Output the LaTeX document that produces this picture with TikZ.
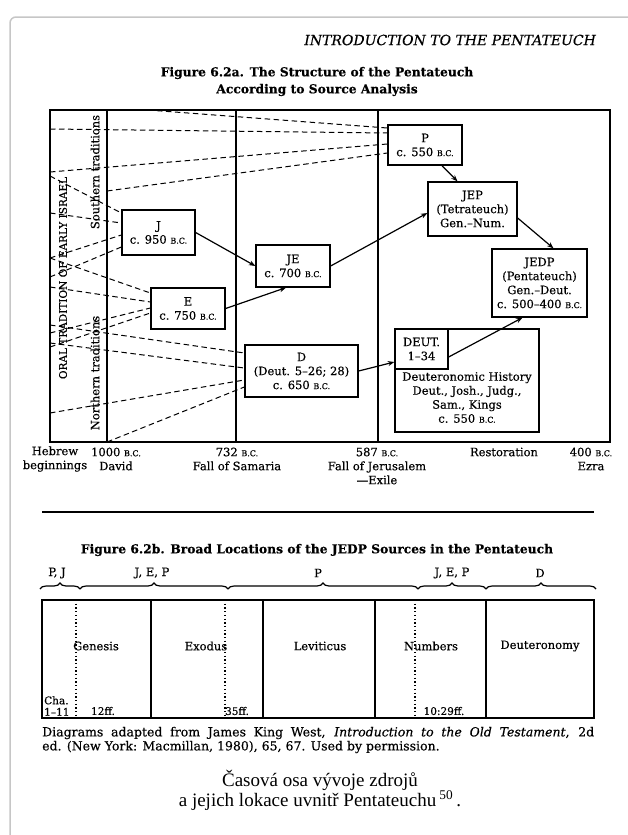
\documentclass[tikz,border=0pt]{standalone}
\usepackage{fontspec}
\setmainfont[FakeBold=0.4]{DejaVu Serif}
\newfontfamily\capfont{Liberation Serif}
\usetikzlibrary{arrows.meta,decorations.pathreplacing}
\newcommand{\BCsc}{{\fontsize{8}{9}\selectfont B.C.}}

\begin{document}
\begin{tikzpicture}[x=1pt,y=-1pt,
 src/.style={draw,line width=1.3pt,inner sep=0pt,align=center,font=\fontsize{11.5}{14}\selectfont},
 trad/.style={line width=1pt,dash pattern=on 5.5pt off 3.5pt},
 flow/.style={line width=1.2pt,-{Stealth[length=6.5pt,width=5pt]}},
 lbl/.style={align=center,inner sep=0pt,font=\fontsize{11.5}{14}\selectfont},
 wave/.style={line width=1.2pt,decorate,decoration={brace,amplitude=6pt}}]
\useasboundingbox (0,0) rectangle (628,835);
\draw[gray!45,line width=1.5pt,rounded corners=6pt] (10,835)--(10,17)--(628,17);
\node[anchor=east,inner sep=0pt,font=\fontsize{14}{16}\itshape] (head) at (596,40) {INTRODUCTION TO THE PENTATEUCH};
\node[align=center,inner sep=0pt,font=\fontsize{12.3}{17}\bfseries] (tita) at (317,81.5) {Figure 6.2a. The Structure of the Pentateuch\\According to Source Analysis};
\draw[line width=1.4pt] (50,110) rectangle (610,442);
\draw[line width=1.1pt] (107,110)--(107,442) (236,110)--(236,442) (378,110)--(378,442);
\node[rotate=90,inner sep=0pt,font=\fontsize{10.5}{12}\selectfont] (oral) at (63,278) {ORAL TRADITION OF EARLY ISRAEL};
\node[rotate=90,lbl] (south) at (95,172) {Southern traditions};
\node[rotate=90,lbl] (north) at (95,373) {Northern traditions};
\node[src,minimum width=74pt,minimum height=40pt] (P) at (425,145) {P\\c. 550 \BCsc};
\node[src,minimum width=89pt,minimum height=54pt] (JEP) at (472.5,209) {JEP\\(Tetrateuch)\\Gen.–Num.};
\node[src,minimum width=73pt,minimum height=45pt] (J) at (158.5,232.5) {J\\c. 950 \BCsc};
\node[src,minimum width=74pt,minimum height=42pt] (JE) at (293,266) {JE\\c. 700 \BCsc};
\node[src,minimum width=74pt,minimum height=41pt] (E) at (188,308.5) {E\\c. 750 \BCsc};
\node[src,minimum width=113pt,minimum height=52pt] (D) at (301.5,371) {D\\(Deut. 5–26; 28)\\c. 650 \BCsc};
\node[src,minimum width=95pt,minimum height=68pt] (JEDP) at (539.5,283) {JEDP\\(Pentateuch)\\Gen.–Deut.\\c. 500–400 \BCsc};
\node[src,minimum width=144pt,minimum height=103pt] (DH) at (467,380.5) {};
\node[src,minimum width=53pt,minimum height=40pt] (DEUT) at (421.5,349) {DEUT.\\1–34};
\node[lbl] (DHtext) at (467,397.5) {Deuteronomic History\\Deut., Josh., Judg.,\\Sam., Kings\\c. 550 \BCsc};
\draw[trad] (148,110) coordinate (p1) -- ([yshift=17pt]P.west); \draw[trad] (50,129) coordinate (p2) -- ([yshift=12pt]P.west);
\draw[trad] (50,172) coordinate (p3) -- ([yshift=1pt]P.west); \draw[trad] (107,191) coordinate (p4) -- ([yshift=-8pt]P.west);
\draw[trad] (50,176) coordinate (j1) -- ([yshift=19.5pt]J.west); \draw[trad] (50,213) coordinate (j2) -- ([yshift=9.5pt]J.west);
\draw[trad] (50,258) coordinate (j3) -- ([yshift=-2.5pt]J.west); \draw[trad] (50,277) coordinate (j4) -- ([yshift=-14.5pt]J.west);
\draw[trad] (50,258) coordinate (e1) -- ([yshift=15.5pt]E.west); \draw[trad] (50,287) coordinate (e2) -- ([yshift=6.5pt]E.west);
\draw[trad] (50,333) coordinate (e3) -- ([yshift=0.5pt]E.west); \draw[trad] (50,347) coordinate (e4) -- ([yshift=-4.5pt]E.west);
\draw[trad] (50,325) coordinate (d1) -- ([yshift=18pt]D.west); \draw[trad] (50,343) coordinate (d2) -- ([yshift=3pt]D.west);
\draw[trad] (50,413) coordinate (d3) -- ([yshift=-9pt]D.west); \draw[trad] (107,442) coordinate (d4) -- ([yshift=-16pt]D.west);
\draw[flow] (J.east)--(JE.west);
\draw[flow] (E.east)--([xshift=-7pt]JE.south);
\draw[flow] (JE.east)--([yshift=-4pt]JEP.west);
\draw[flow] ([xshift=17pt]P.south)--([xshift=-15pt]JEP.north);
\draw[flow] ([yshift=-9pt]JEP.east)--([xshift=14pt]JEDP.north);
\draw[flow] (D.east)--([yshift=-13pt]DEUT.west);
\draw[flow] ([yshift=-8pt]DEUT.east)--([xshift=-17pt]JEDP.south);
\node[lbl] (heb) at (55,459) {Hebrew\\beginnings};
\node[lbl] (dav) at (116,459) {1000 \BCsc\\David};
\node[lbl] (sam) at (237,459) {732 \BCsc\\Fall of Samaria};
\node[lbl] (jer) at (377,466) {587 \BCsc\\Fall of Jerusalem\\—Exile};
\node[lbl] (rest) at (504,452) {Restoration};
\node[lbl] (ezra) at (591,459) {400 \BCsc\\Ezra};
\draw[line width=1.8pt] (42,512)--(594,512);
\node[inner sep=0pt,font=\fontsize{12.3}{14}\bfseries] (titb) at (317,550) {Figure 6.2b. Broad Locations of the JEDP Sources in the Pentateuch};
\node[lbl] (pj) at (57,573) {P, J}; \node[lbl] (jep1) at (152,573) {J, E, P}; \node[lbl] (pp) at (318,573) {P};
\node[lbl] (jep2) at (452,573) {J, E, P}; \node[lbl] (dd) at (540,573) {D};
\draw[wave] (40,589)--(80,589); \draw[wave] (80,589)--(228,589); \draw[wave] (228,589)--(418,589);
\draw[wave] (418,589)--(486,589); \draw[wave] (486,589)--(596,589);
\draw[line width=1.4pt] (42,600) rectangle (594,718);
\draw[line width=1.1pt] (151,600)--(151,718) (263,600)--(263,718) (375,600)--(375,718) (486,600)--(486,718);
\draw[line width=1.1pt,dash pattern=on 1.3pt off 2.4pt] (76,600)--(76,718) (225,600)--(225,718) (415,600)--(415,718);
\node[lbl] (gen) at (96,646) {Genesis}; \node[lbl] (exo) at (206,646) {Exodus}; \node[lbl] (lev) at (320,646) {Leviticus};
\node[lbl] (num) at (431,646) {Numbers}; \node[lbl] (deu) at (540,646) {Deuteronomy};
\node[lbl,anchor=west,align=left,font=\fontsize{10.5}{11.5}\selectfont] (cha) at (44,706) {Cha.\\1–11};
\node[lbl,font=\fontsize{10.5}{12}\selectfont] (gen12) at (103,711) {12ff.}; \node[lbl,font=\fontsize{10.5}{12}\selectfont] (exo35) at (237,711) {35ff.};
\node[lbl,font=\fontsize{10.5}{12}\selectfont] (num10) at (444,711) {10:29ff.};
\node[anchor=west,inner sep=0pt,font=\fontsize{12.5}{14}\selectfont] (cite1) at (42,733) {\makebox[552pt][s]{Diagrams adapted from James King West, \textit{Introduction to the Old Testament}, 2d}};
\node[anchor=west,inner sep=0pt,font=\fontsize{12.5}{14}\selectfont] (cite2) at (42,747) {ed. (New York: Macmillan, 1980), 65, 67. Used by permission.};
\node[align=center,inner sep=0pt,font=\capfont\fontsize{19}{20}\selectfont] (cap) at (320,790) {Časová osa vývoje zdrojů\\a jejich lokace uvnitř Pentateuchu\,\textsuperscript{50}\,.};
\end{tikzpicture}
\end{document}
